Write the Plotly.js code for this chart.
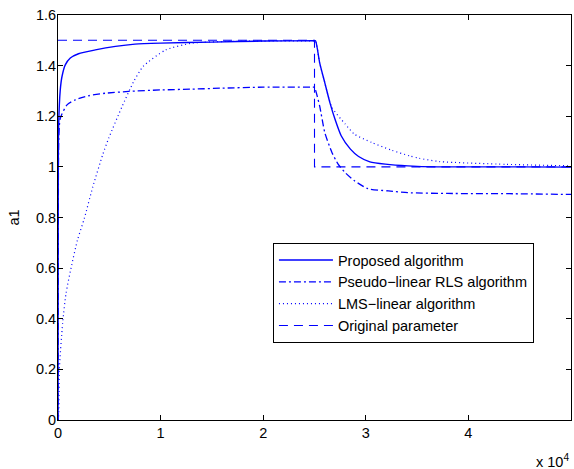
<!DOCTYPE html>
<html>
<head>
<meta charset="utf-8">
<script src="https://cdn.plot.ly/plotly-3.0.1.min.js"></script>
<style>html,body{margin:0;padding:0;background:#fff;}#chart{width:574px;height:469px;}</style>
</head>
<body>
<div id="chart"></div>
<script>
// Proposed algorithm
const propX = [0, 20, 60, 220, 390, 710, 1200, 2000, 3640, 5600, 7500, 10000, 15000, 20000, 24950,
  25100, 25500, 26000, 26500, 27000, 27600, 28500, 29300, 30400, 31900, 34100, 37000, 40000, 45000, 50000];
const propY = [0, 0.85, 1.159, 1.304, 1.357, 1.403, 1.43, 1.447, 1.462, 1.476, 1.485, 1.489, 1.493, 1.497, 1.498,
  1.498, 1.412, 1.333, 1.254, 1.188, 1.123, 1.070, 1.041, 1.020, 1.011, 1.004, 1.0, 1.0, 1.0, 0.999];

// Pseudo-linear RLS algorithm
const rlsX = [0, 30, 80, 220, 880, 1690, 2990, 4620, 6890, 10000, 13000, 16000, 20000, 24950,
  25000, 25500, 26000, 26700, 27300, 28000, 28900, 30200, 32200, 34100, 38000, 44000, 50000];
const rlsY = [0, 0.8, 1.12, 1.192, 1.245, 1.265, 1.281, 1.291, 1.298, 1.304, 1.307, 1.311, 1.315, 1.315,
  1.315, 1.241, 1.136, 1.057, 1.011, 0.977, 0.945, 0.914, 0.905, 0.898, 0.895, 0.894, 0.891];

// LMS-linear algorithm
const lmsX = [0, 60, 130, 450, 780, 1270, 1900, 2570, 3400, 4350, 4940, 6240, 7380, 8300, 10500, 13100, 16000, 20000, 24950,
  25100, 25500, 26000, 26700, 28000, 28900, 30600, 32500, 34300, 35200, 37200, 43700, 50000];
const lmsY = [0, 0.013, 0.198, 0.382, 0.50, 0.60, 0.711, 0.797, 0.922, 1.047, 1.113, 1.238, 1.337, 1.397, 1.462, 1.489, 1.495, 1.497, 1.498,
  1.498, 1.412, 1.333, 1.235, 1.169, 1.129, 1.096, 1.066, 1.043, 1.034, 1.021, 1.01, 1.004];

// Original parameter
const origX = [0, 25000, 25000, 50000];
const origY = [1.5, 1.5, 1.0, 1.0];

const xTickVals = [0, 10000, 20000, 30000, 40000, 50000];
const xTickText = ["0", "1", "2", "3", "4", "5"];
const yTickVals = [0, 0.2, 0.4, 0.6, 0.8, 1, 1.2, 1.4, 1.6];
const yTickText = ["0", "0.2", "0.4", "0.6", "0.8", "1", "1.2", "1.4", "1.6"];

const blue = "#0000ff";
const traces = [
  {x: propX, y: propY, name: "Proposed algorithm", mode: "lines", line: {color: blue, width: 1.4, shape: "spline", smoothing: 0.6}},
  {x: rlsX, y: rlsY, name: "Pseudo\u2212linear RLS algorithm", mode: "lines", line: {color: blue, width: 1.3, dash: "7px,3px,2px,3px", shape: "spline", smoothing: 0.6}},
  {x: lmsX, y: lmsY, name: "LMS\u2212linear algorithm", mode: "lines", line: {color: blue, width: 1.2, dash: "1px,3px", shape: "spline", smoothing: 0.6}},
  {x: origX, y: origY, name: "Original parameter", mode: "lines", line: {color: blue, width: 1.1, dash: "9px,6px"}}
];

const font = {family: "Liberation Sans, Arial, sans-serif", size: 14.5, color: "#000"};
const layout = {
  width: 574, height: 469,
  margin: {l: 58, r: 3, t: 15, b: 49},
  paper_bgcolor: "#fff", plot_bgcolor: "#fff",
  font: font,
  showlegend: true,
  legend: {
    x: 0.419, y: 0.437, xanchor: "left", yanchor: "top",
    bordercolor: "#000", borderwidth: 1, bgcolor: "#fff",
    font: font, tracegroupgap: 0, itemwidth: 54
  },
  xaxis: {
    range: [0, 50000], tickmode: "array", tickvals: xTickVals, ticktext: xTickText,
    ticks: "inside", ticklen: 5, tickcolor: "#000", showline: true, linecolor: "#000", linewidth: 1,
    mirror: "allticks", showgrid: false, zeroline: false, tickfont: font, ticklabelstandoff: 0
  },
  yaxis: {
    range: [0, 1.6], tickmode: "array", tickvals: yTickVals, ticktext: yTickText,
    ticks: "inside", ticklen: 5, tickcolor: "#000", showline: true, linecolor: "#000", linewidth: 1,
    mirror: "allticks", showgrid: false, zeroline: false, tickfont: font, ticklabelstandoff: -2,
    title: {text: "a1", font: font, standoff: 12}
  },
  annotations: [
    {xref: "paper", yref: "paper", x: 1.0, y: 0, xanchor: "right", yanchor: "top", yshift: -30, xshift: 0,
     text: "x 10<sup>4</sup>", showarrow: false, font: font}
  ]
};
function stretchLegendLines() {
  const gd = document.getElementById("chart");
  gd.querySelectorAll(".legend .traces path, .legend path").forEach(function (p) {
    const d = (p.getAttribute("d") || "").replace(/\s/g, "");
    const m = d.match(/^M(-?[\d.]+),0h([\d.]+)$/);
    if (m && +m[2] < 49) p.setAttribute("d", "M" + m[1] + ",0h49");
  });
}
const gd = document.getElementById("chart");
const pr = Plotly.newPlot(gd, traces, layout, {staticPlot: true, displayModeBar: false});
stretchLegendLines();
if (gd.on) gd.on("plotly_afterplot", stretchLegendLines);
pr.then(function () {
  stretchLegendLines();
  [20, 100, 300].forEach(function (t) { setTimeout(stretchLegendLines, t); });
});
</script>
</body>
</html>
